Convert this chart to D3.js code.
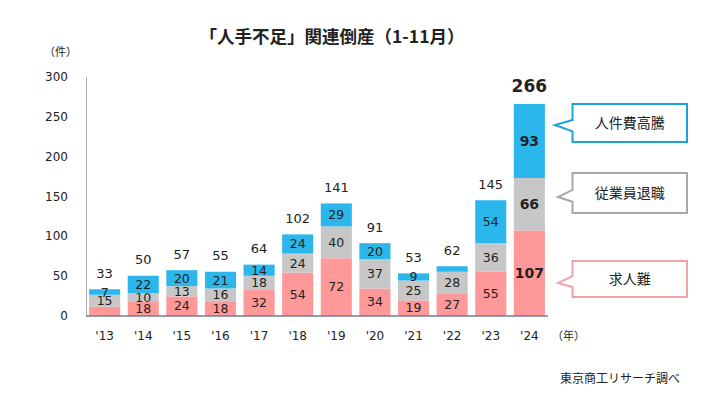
<!DOCTYPE html>
<meta charset="utf-8">
<style>
body { margin: 0; background: #fff; }
text { font-family: "DejaVu Sans", "Noto Sans CJK JP", sans-serif; fill: #222; }
.jp { font-family: "Noto Sans CJK JP", sans-serif; }
</style>
<svg width="718" height="398"></svg>
<script src="https://cdn.jsdelivr.net/npm/d3@7"></script>
<script>

var years = ["'13","'14","'15","'16","'17","'18","'19","'20","'21","'22","'23","'24"];
var kyujin   = [11, 18, 24, 18, 32, 54, 72, 34, 19, 27, 55, 107];  // 求人難
var taishoku = [15, 10, 13, 16, 18, 24, 40, 37, 25, 28, 36, 66];   // 従業員退職
var jinkenhi = [7, 22, 20, 21, 14, 24, 29, 20, 9, 7, 54, 93];      // 人件費高騰
var yTicks = [0, 50, 100, 150, 200, 250, 300];
var seriesNames = ["求人難", "従業員退職", "人件費高騰"];
var colors = ["#ff9999", "#c7c7c7", "#2bb7ec"];
var borderColors = ["#f2a3a6", "#a8a8a8", "#1ca2d9"];

var svg = d3.select("svg");

var x = d3.scaleBand().domain(years).range([86, 548]).paddingInner(0.195).paddingOuter(0.08);
var y = d3.scaleLinear().domain([0, 300]).range([315.5, 77]);

var rows = years.map(function(yr, i) {
  return { year: yr, k: kyujin[i], t: taishoku[i], j: jinkenhi[i], total: kyujin[i] + taishoku[i] + jinkenhi[i], last: i == years.length - 1 };
});
var stack = d3.stack().keys(["k", "t", "j"])(rows);

// title
svg.append("text")
  .attr("class", "jp")
  .attr("x", 332).attr("y", 43)
  .attr("text-anchor", "middle")
  .style("font-size", "17.5px").style("font-weight", "bold")
  .text("「人手不足」関連倒産（1-11月）");

// y axis line
svg.append("line")
  .attr("x1", 86.5).attr("x2", 86.5).attr("y1", y(300)).attr("y2", y(0))
  .attr("stroke", "#b0b0b0");

svg.selectAll(".ytick").data(yTicks).enter().append("text")
  .attr("class", "ytick")
  .attr("x", 68).attr("y", function(d) { return y(d); })
  .attr("dy", "0.36em")
  .attr("text-anchor", "end")
  .style("font-size", "12px")
  .text(function(d) { return d; });

svg.append("text").attr("class", "jp")
  .attr("x", 44).attr("y", 56)
  .style("font-size", "11px")
  .text("（件）");

// bars
var layer = svg.selectAll(".layer").data(stack).enter().append("g")
  .attr("fill", function(d, i) { return colors[i]; });

layer.selectAll("rect").data(function(d) { return d; }).enter().append("rect")
  .attr("x", function(d) { return x(d.data.year); })
  .attr("width", x.bandwidth())
  .attr("y", function(d) { return y(d[1]); })
  .attr("height", function(d) { return y(d[0]) - y(d[1]); });

// segment labels (the original leaves the '13 pink and '22 blue ones out)
layer.selectAll("text").data(function(d) { return d; }).enter()
  .filter(function(d) { return (d[1] - d[0]) >= 9 || (d.data.year == "'13"); })
  .filter(function(d) { return !(d.data.year == "'13" && d[0] == 0); })
  .append("text")
  .attr("x", function(d) { return x(d.data.year) + x.bandwidth() / 2; })
  .attr("y", function(d) { return (y(d[0]) + y(d[1])) / 2; })
  .attr("dy", "0.36em")
  .attr("text-anchor", "middle")
  .style("font-size", function(d) { return d.data.last ? "14px" : "12.5px"; })
  .style("font-weight", function(d) { return d.data.last ? "bold" : "normal"; })
  .text(function(d) { return d[1] - d[0]; });

// totals
svg.selectAll(".total").data(rows).enter().append("text")
  .attr("class", "total")
  .attr("x", function(d) { return x(d.year) + x.bandwidth() / 2; })
  .attr("y", function(d) { return y(d.total) - (d.last ? 18 : 16); })
  .attr("dy", "0.36em")
  .attr("text-anchor", "middle")
  .style("font-size", function(d) { return d.last ? "17px" : "13px"; })
  .style("font-weight", function(d) { return d.last ? "bold" : "normal"; })
  .text(function(d) { return d.total; });

// baseline
svg.append("line")
  .attr("x1", 86).attr("x2", 548).attr("y1", y(0) + 0.5).attr("y2", y(0) + 0.5)
  .attr("stroke", "#2b3a67").attr("stroke-width", 1.2);

// x labels
svg.selectAll(".xl").data(years).enter().append("text")
  .attr("x", function(d) { return x(d) + x.bandwidth() / 2; })
  .attr("y", 336).attr("dy", "0.36em")
  .attr("text-anchor", "middle")
  .style("font-size", "12px")
  .text(function(d) { return d; });

svg.append("text").attr("class", "jp")
  .attr("x", 552).attr("y", 340)
  .style("font-size", "11px")
  .text("（年）");

// callouts
var callouts = [
  { i: 2, top: 104, bottom: 142, tipX: 555, tipY: 125 },
  { i: 1, top: 173, bottom: 213, tipX: 558, tipY: 197 },
  { i: 0, top: 261, bottom: 297, tipX: 558, tipY: 283 }
];
var boxL = 572.5, boxR = 687;
callouts.forEach(function(c) {
  var h = c.bottom - c.top;
  var p1 = c.top + h * 0.42, p2 = c.top + h * 0.72;
  var path = d3.path();
  path.moveTo(boxL, c.top);
  path.lineTo(boxR, c.top);
  path.lineTo(boxR, c.bottom);
  path.lineTo(boxL, c.bottom);
  path.lineTo(boxL, p2);
  path.lineTo(c.tipX, c.tipY);
  path.lineTo(boxL, p1);
  path.closePath();
  svg.append("path").attr("d", path.toString())
    .attr("fill", "#fff").attr("stroke", borderColors[c.i]).attr("stroke-width", 2);
  svg.append("text").attr("class", "jp")
    .attr("x", (boxL + boxR) / 2).attr("y", (c.top + c.bottom) / 2)
    .attr("dy", "0.36em").attr("text-anchor", "middle")
    .style("font-size", "14px")
    .text(seriesNames[c.i]);
});

svg.append("text").attr("class", "jp")
  .attr("x", 560).attr("y", 383)
  .style("font-size", "12px")
  .text("東京商工リサーチ調べ");

</script>
